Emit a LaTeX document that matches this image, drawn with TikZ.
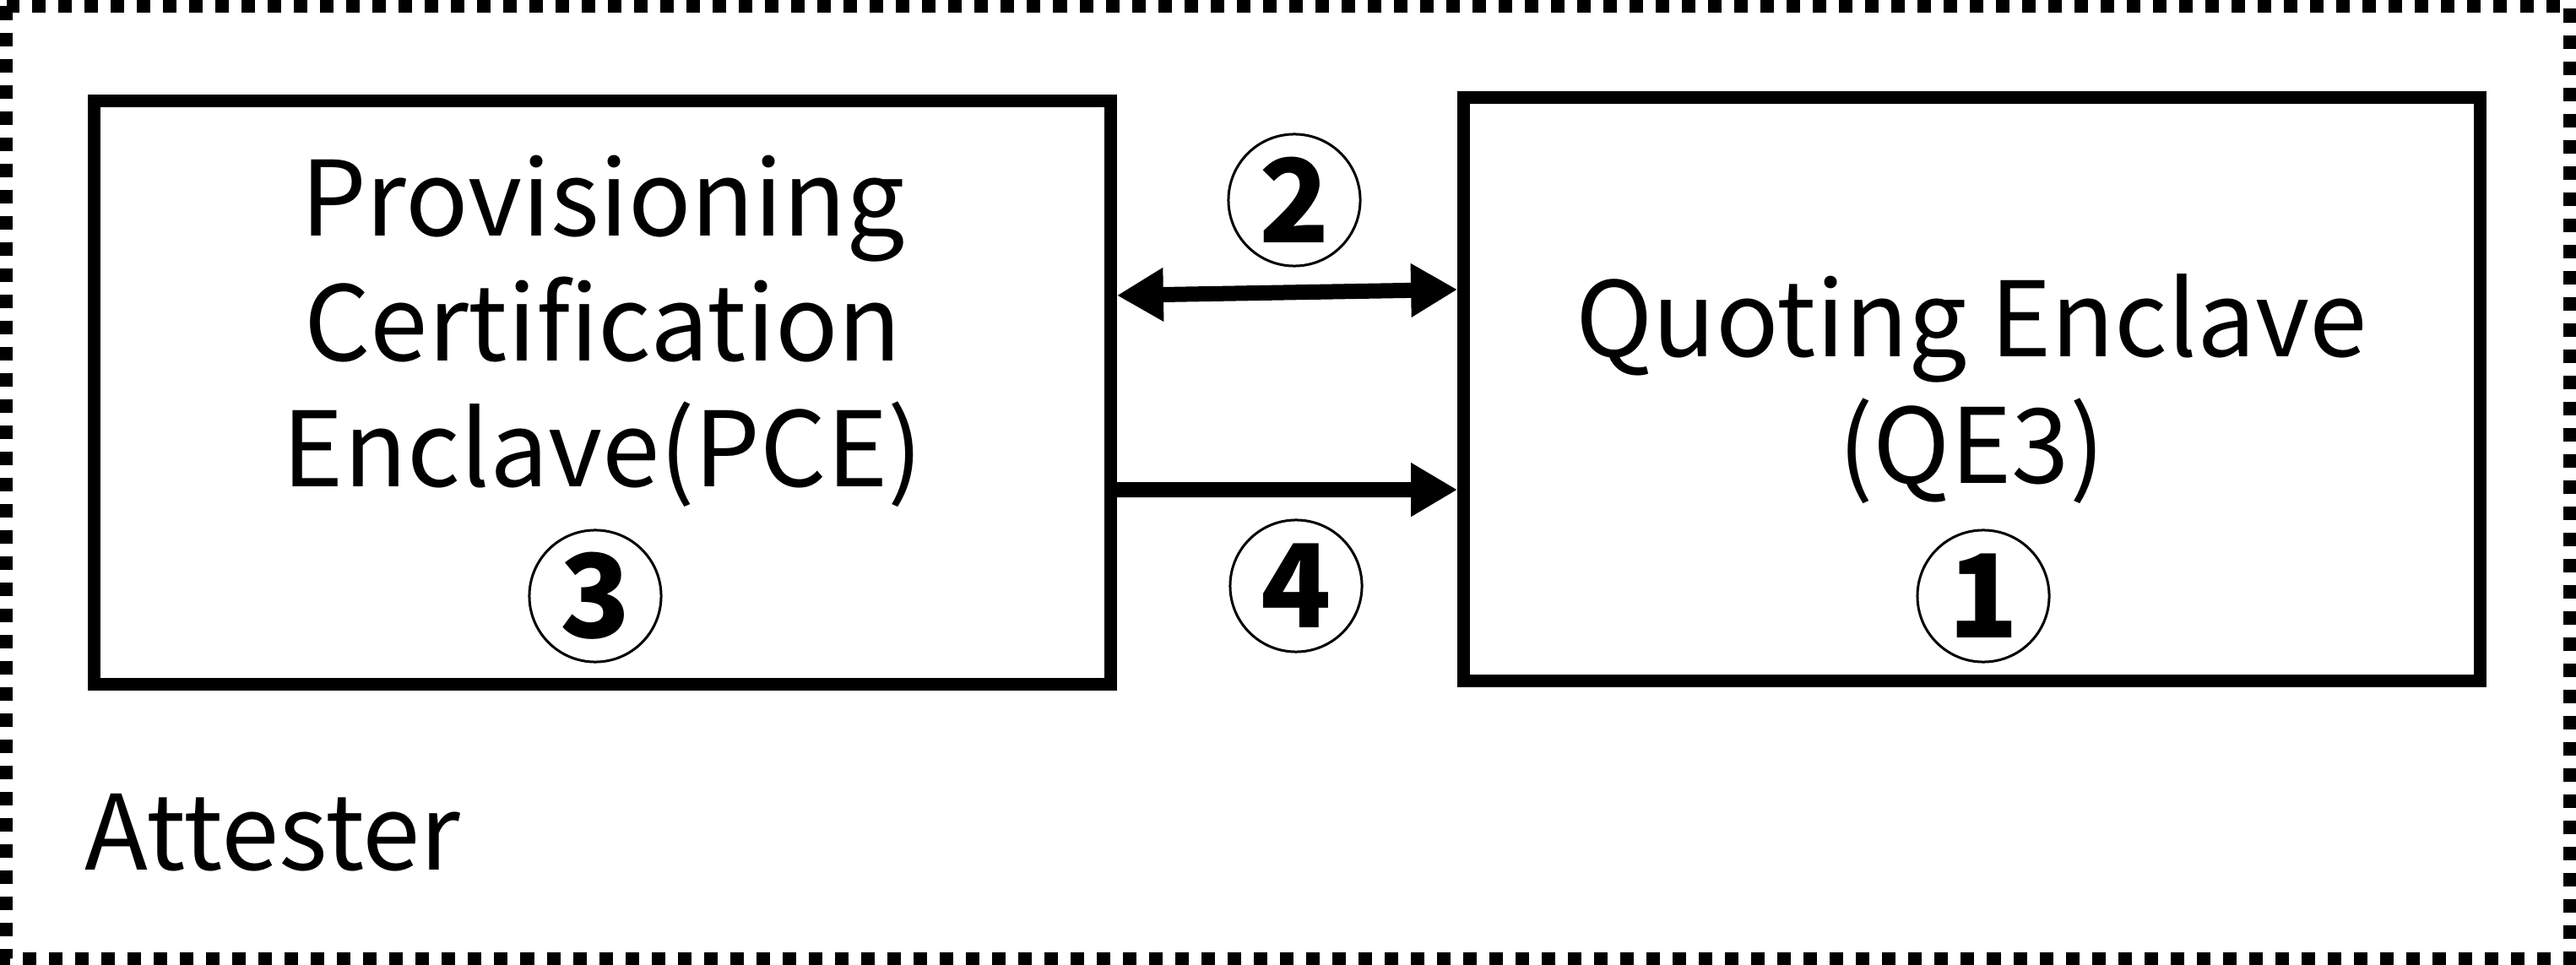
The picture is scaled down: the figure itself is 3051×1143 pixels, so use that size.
\documentclass[tikz,border=0pt]{standalone}
\usepackage{fontspec}
\setmainfont{Noto Sans CJK JP}
\usepackage{tikz}
\usetikzlibrary{arrows.meta,positioning}

\tikzset{
  enclave/.style={draw, rectangle, line width=0.15cm, inner sep=0pt,
    minimum width=12.03cm, minimum height=6.9cm},
  label text/.style={anchor=base, inner sep=0pt, font=\fontsize{35}{42}\selectfont},
  num/.style={draw, circle, line width=0.03cm, minimum size=1.56cm, inner sep=0pt,
    font=\fontsize{39}{39}\selectfont\bfseries},
  flow/.style={line width=0.18cm, -{Triangle[length=0.55cm,width=0.6cm]}},
}

\begin{document}
\begin{tikzpicture}[x=0.01cm, y=-0.01cm]
    \useasboundingbox (0,0) rectangle (3051,1143);

    % attester frame
    \draw[line width=0.15cm, dash pattern=on 0.16cm off 0.15cm] (7.5,7.5) rectangle (3043.5,1135.5);
    \node[anchor=base west, inner sep=0pt, font=\fontsize{35}{42}\selectfont] (att) at (100,1030) {Attester};

    % enclaves
    \node[enclave] (pce) at (713.5,465) {};
    \node[enclave] (qe) at (2335.5,461) {};

    \node[label text] (pce1) at (714,280) {Provisioning};
    \node[label text] (pce2) at (714,428) {Certification};
    \node[label text] (pce3) at (714,577) {Enclave(PCE)};

    \node[label text] (qe1) at (2335,423) {Quoting Enclave};
    \node[label text] (qe2) at (2335,572) {(QE3)};

    % step numbers
    \node[num] (n1) at (2349,706) {1};
    \node[num] (n2) at (1533,237) {2};
    \node[num] (n3) at (705,706) {3};
    \node[num] (n4) at (1535,694) {4};

    % messages
    \draw[flow, {Triangle[length=0.55cm,width=0.6cm]}-{Triangle[length=0.55cm,width=0.6cm]}]
      ([yshift=1.15cm]pce.east) -- ([yshift=1.18cm]qe.west);
    \draw[flow] ([yshift=-1.15cm]pce.east) -- ([yshift=-1.19cm]qe.west);
\end{tikzpicture}
\end{document}
